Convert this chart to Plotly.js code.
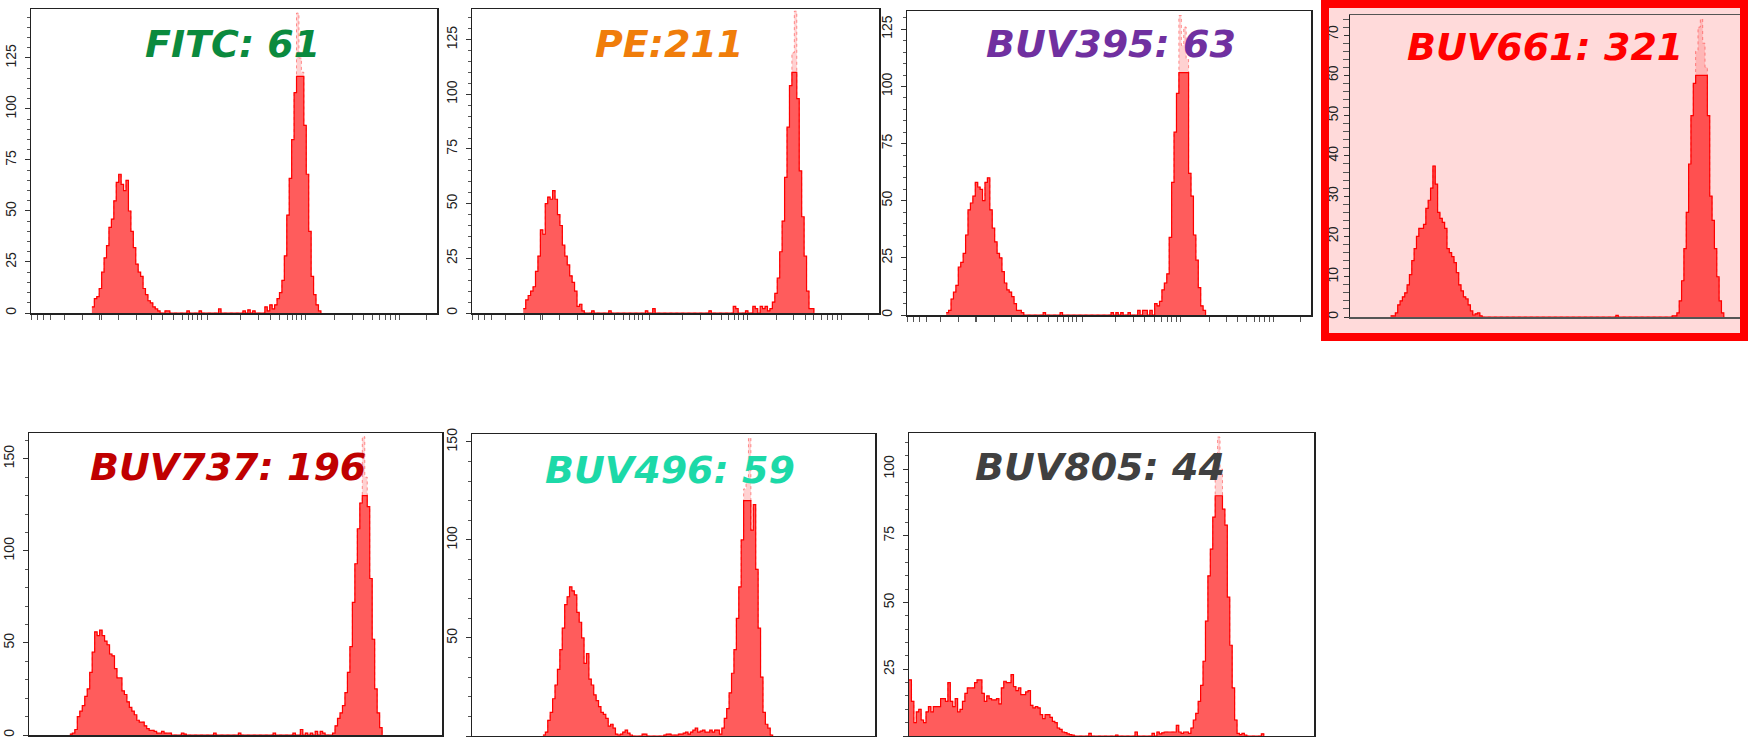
<!DOCTYPE html>
<html>
<head>
<meta charset="utf-8">
<script src="https://cdn.plot.ly/plotly-3.0.1.min.js"></script>
<style>
  html, body { margin: 0; padding: 0; background: #ffffff; }
  #chart { width: 1748px; height: 737px; }
</style>
</head>
<body>
<div id="chart"></div>
<script>
// ---------------- DATA ----------------
const panelLabels = ["FITC: 61", "PE:211", "BUV395: 63", "BUV661: 321", "BUV737: 196", "BUV496: 59", "BUV805: 44"];
const labelColors = ["#0b8a3e", "#f07d0a", "#7030a0", "#ff0000", "#c00000", "#1cd9a8", "#404040"];

// histogram counts per channel bin (bin width = binWidth channels, first bin at binStart)
const fitcCounts = [3,7,8,12,20,27,33,42,46,55,64,68,63,60,65,50,40,32,24,20,18,12,9,6,5,3,2,1,
  0,0,1,1, 0,0,0,0,0,0,0, 1, 0,0,0,0, 1, 0,0,0,0,0,0,0, 2, 0,0,0,0,0,0,0,0,0,
  1,0,1.5,0,1,0,0,0,0, 3,1,4,2,4,
  7,10,16,28,48,66,85,108,147,125,118,92,68,40,18,9,4,1,0];
const peCounts = [2,6,8,10,12,19,26,38,36,50,53,52,56,52,45,40,31,26,22,17,14,10,3,4,1,
  0,0,0, 1, 0,0,0,0,0,0, 1, 0,0,0,0,0,0,0,0,0,0,0,0,0,0, 1, 0,0, 2,
  0,0,0,0,0,0,0,0,0,0,0,0,0,0,0,0,0,0,0,0,0,0, 1, 0,0,0,0,0,0,0,0,0,
  3,2,0,0,0,1,0,0,3,2,0,3,2,3,1,2,
  5,9,16,28,42,62,85,104,119,138,98,65,44,26,10,2,2,0];
const buv395Counts = [1,2,7,10,13,21,23,27,35,46,49,52,58,56,55,50,58,60,46,38,32,27,25,19,14,11,10,8,5,2,2,1,
  0,0,0,0,0,0,0,0, 1, 0,0,0,0,0,0, 1, 0,0,0,0,0,0,0,0,0,0,0,0,0,0,0,0,0,0,0,0,
  1,0,1,0,1,0,0,1,0,0,0,2,0,2,2,0,2,0,5,
  4,6,11,14,18,34,58,80,97,131,118,126,112,62,52,35,24,12,4,2,0];
const buv661Counts = [0.3,0.3,1,3,4,5,6,8,10.5,14,17,20,22,22,23,27,29,32,37.5,33,26,24.5,23.5,22,17,16,15,13.5,11,8,6.5,5,4.5,3,1.5,0.5,0.8,1,0.3,0,
  0,0,0,0,0,0,0,0,0,0,0,0,0,0,0,0,0,0,0,0,0,0,0,0,0,0,0,0,0,0,0,0,0,0,0,0,0,0,0,0,0,0,0,0,0,0,0,0,0,0,0,0,0,0,0,0,
  0.4,
  0,0,0,0,0,0,0,0,0,0,0,0,0,0,0,0,0,0,0,0,0,0,0,
  0.3,0.3,1,4,9,17,26,38,50,58,66,72,74,68,62,50,30,24,17,10,4,1,0];
const buv737Counts = [0.5,1,3,10,13,16,21,25,34,45,56,54,57,54,51,49,44,43,36,31,31,24,22,18,15,13,11,8,7,7,5,3.5,2.5,2.5,2,1,1,2,1,1,1,
  0,0,0,0, 1,0.5, 0,0,0,0,0,0,0,0,0,0,0, 1, 0,0,0,0,0,0,0,0,0, 1, 0,0,0,0,0,0,0,0,0,0,0,0,0, 1, 0,0,0,0,0,0,0, 1,
  0,0,3,0,1,0,1,0,2,0,2,1,0,0,0,
  1,5,9,12,16,23,34,48,72,93,112,126,162,140,124,85,52,25,12,4,0];
const buv496Counts = [0.5,2,8,12,19,26,34,44,55,67,71,76,74,72,63,58,50,37,42,29,26,21,18,15,12,11,9,5,6,4,1,0.5,1,2,3,1.5,0.5,
  0,0,0,0, 1,1, 0,0,0,0,0,0,0,
  0.5,1,1,0.5,0.5,0.5,1,1,1.5,2,1,2,3,4,2,2.5,3,2,2,3,2,3,3,1,
  4,9,14,22,32,44,60,76,100,126,130,152,105,118,85,55,30,12,6,4,0.5,0];
const buv805Counts = [21,13,5,9,10,6,5,9,11,9,11,11,11,14,14,13,20,13,11,14,9,10,13,16,18,18,18,20,21,21,16,13,15,14,13.5,13.5,14,12,18,20.5,20,20,23,18.5,17,18,15.5,15.5,16.5,17,11.5,10.5,11,10.5,8,6.5,8,8,7,5.5,5,3,2.5,1.5,1.3,0.8,0.5,0.3,
  0,0,0,0,0,0, 1, 0,0,0,0,0,0,0,0,0,0, 0.3, 0,0,0,0,0,0,0, 1.5, 0,0,0,0,0,0, 1,0,
  1.5,0.8,1.2,1.5,1.5,1.5,1.5,1.5,4,1.5,1,1.5,1.5,1,3,
  6,8.5,13,19,28,43,60,70,82,98,112,100,85,79,52,34,18,6,1,
  0.5,1,0.3,0,0,0,0,0,0,0.8,0];

const binStart = [150, 126, 97, 104, 99, 176, 0];   // channel of first listed bin
const binWidth = 6;                                  // channels per bin
const displayClip = [116, 110, 106, 60, 130, 120, 90]; // level above which the peak is drawn lightly
const yMax = [149, 139, 133, 75, 164, 154, 113.5];
const yMajorStep = [25, 25, 25, 10, 50, 50, 25];
const yMinorStep = [5, 5, 5, 2, 10, 10, 5];
const xTickVals = [0,17,31,48,83,128,169,173,216,259,298,324,350,372,387,399,409,419,435,516,561,589,612,631,644,655,666,676,748,791,819,840,859,873,885,897,908,975];

const allCounts = [fitcCounts, peCounts, buv395Counts, buv661Counts, buv737Counts, buv496Counts, buv805Counts];

// ---------------- LAYOUT ----------------
const W = 1748, H = 737;
// plot frames in pixels: [left, right, top, bottom]
const frames = [
  [31, 437, 9, 313],
  [472, 879, 9, 313],
  [907, 1311, 11, 315],
  [1350, 1741, 15, 317],
  [29, 442, 433, 735],
  [472, 875, 434, 736],
  [909, 1314, 433, 736]
];
const labelPos = [[233, 44], [669, 44], [1111, 44], [1545, 47], [228, 467], [670, 470], [1100, 467]];

const px = v => v / W;
const py = v => 1 - v / H;

const data = [];
const layout = {
  width: W, height: H,
  margin: {l: 0, r: 0, t: 0, b: 0},
  paper_bgcolor: "#ffffff",
  plot_bgcolor: "rgba(0,0,0,0)",
  showlegend: false,
  hovermode: false,
  annotations: [],
  shapes: []
};

allCounts.forEach((counts, k) => {
  const n = k + 1;
  const xa = n === 1 ? "x" : "x" + n;
  const ya = n === 1 ? "y" : "y" + n;
  const clipped = counts.map(v => Math.min(v, displayClip[k]));
  data.push({
    type: "scatter", mode: "lines", xaxis: xa, yaxis: ya,
    x0: binStart[k], dx: binWidth, y: counts,
    line: {color: "rgba(255,60,60,0.55)", width: 1, dash: "dot", shape: "hv"},
    fill: "tozeroy", fillcolor: "rgba(255,90,90,0.28)"
  });
  data.push({
    type: "scatter", mode: "lines", xaxis: xa, yaxis: ya,
    x0: binStart[k], dx: binWidth, y: clipped,
    line: {color: "#ff0000", width: 1.2, shape: "hv"},
    fill: "tozeroy", fillcolor: "rgba(255,0,0,0.56)"
  });

  const f = frames[k];
  const isBox = (k === 3);
  layout[n === 1 ? "xaxis" : "xaxis" + n] = {
    domain: [px(f[0]), px(f[1])],
    anchor: ya,
    range: [0, 1000],
    showline: true, mirror: true,
    linecolor: isBox ? "#555" : "#222", linewidth: 1.5,
    ticks: isBox ? "" : "outside", tickmode: "array", tickvals: xTickVals,
    ticklen: 5, tickwidth: 1, tickcolor: "#555",
    showticklabels: false, showgrid: false, zeroline: false, fixedrange: true
  };
  layout[n === 1 ? "yaxis" : "yaxis" + n] = {
    domain: [py(f[3]), py(f[2])],
    anchor: xa,
    range: [0, yMax[k]],
    showline: true, mirror: true, linecolor: "#222", linewidth: 1.5,
    ticks: "outside", ticklen: 5, tickwidth: 1, tickcolor: "#333",
    tick0: 0, dtick: yMajorStep[k],
    tickangle: -90,
    ticklabelstandoff: isBox ? 0 : 3,
    tickfont: {family: "Liberation Sans, Arial, sans-serif", size: 14, color: "#222"},
    minor: {dtick: yMinorStep[k], ticks: "outside", ticklen: isBox ? 6 : 3, tickwidth: 1, tickcolor: "#555", showgrid: false},
    showgrid: false, zeroline: false, fixedrange: true
  };

  layout.annotations.push({
    xref: "paper", yref: "paper",
    x: px(labelPos[k][0]), y: py(labelPos[k][1]),
    xanchor: "center", yanchor: "middle",
    text: panelLabels[k], showarrow: false,
    font: {family: "DejaVu Sans, Verdana, sans-serif", size: 38, color: labelColors[k], weight: "bold", style: "italic"}
  });
});

// highlighted BUV661 panel: pink background and thick red frame
layout.shapes.push({
  type: "rect", xref: "paper", yref: "paper", layer: "below",
  x0: px(1325), x1: px(1744), y0: py(337), y1: py(4),
  fillcolor: "#ffdada", line: {width: 0}
});
layout.shapes.push({
  type: "rect", xref: "paper", yref: "paper", layer: "above",
  x0: px(1325), x1: px(1744), y0: py(337), y1: py(4),
  fillcolor: "rgba(0,0,0,0)", line: {color: "#ff0000", width: 8}
});

Plotly.newPlot("chart", data, layout, {staticPlot: true, displayModeBar: false});
</script>
</body>
</html>
